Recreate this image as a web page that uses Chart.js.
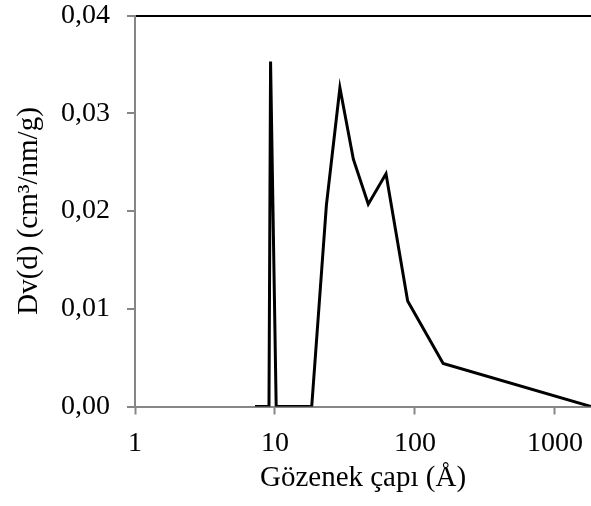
<!DOCTYPE html>
<html lang="tr">
<head>
    <meta charset="utf-8" />
    <title>Gözenek boyut dağılımı</title>
    <style>
        html,
        body {
            margin: 0;
            padding: 0;
            background: #fff;
        }

        #wrap {
            width: 591px;
            height: 506px;
        }
    </style>
</head>
<body>
    <div id="wrap">
        <canvas id="chart" width="591" height="506"></canvas>
    </div>

    <script src="https://cdn.jsdelivr.net/npm/chart.js@4.4.3/dist/chart.umd.min.js"></script>
    <script>
        // pore diameter (Å) and Dv(d) (cm3/nm/g)
        const poreDiameter = [7.2, 9.06, 9.3, 10.2, 18.3, 23.3, 29.1, 36.3, 46.4, 62.1, 88.7, 159, 1810];
        const dvValues = [0, 0, 0.0353, 0, 0, 0.0206, 0.0326, 0.0253, 0.0207, 0.0238, 0.0108, 0.0044, 0];

        const xTicks = [1, 10, 100, 1000];
        const yTicks = [0, 0.01, 0.02, 0.03, 0.04];
        const xMin = 1;
        const xMax = 1810;
        const yMax = 0.04;

        const serif = "'Liberation Serif', 'Times New Roman', serif";
        const axisGray = '#868686';

        const points = poreDiameter.map((d, i) => ({ x: d, y: dvValues[i] }));

        const config = {
            type: 'scatter',
            data: {
                datasets: [{
                    data: points,
                    showLine: true,
                    borderColor: '#000',
                    borderWidth: 3,
                    pointRadius: 0,
                    tension: 0,
                    borderJoinStyle: 'miter'
                }]
            },
            options: {
                responsive: false,
                animation: false,
                layout: { padding: { top: 15.5, right: 0, left: 0, bottom: 0 } },
                plugins: {
                    legend: { display: false },
                    tooltip: { enabled: false }
                },
                scales: {
                    x: {
                        type: 'logarithmic',
                        min: xMin,
                        max: xMax,
                        afterBuildTicks: (scale) => {
                            scale.ticks = xTicks.map(v => ({ value: v }));
                        },
                        afterFit: (scale) => {
                            scale.height = 99.5;
                            scale.paddingLeft = 0;
                            scale.paddingRight = 0;
                        },
                        border: { color: axisGray, width: 2 },
                        grid: {
                            drawOnChartArea: false,
                            tickColor: axisGray,
                            tickWidth: 2,
                            tickLength: 8
                        },
                        ticks: {
                            color: '#000',
                            font: { family: serif, size: 28 },
                            padding: 12,
                            maxRotation: 0,
                            autoSkip: false,
                            callback: (v) => String(v)
                        },
                        title: {
                            display: true,
                            text: 'Gözenek çapı (Å)',
                            color: '#000',
                            font: { family: serif, size: 29 },
                            padding: { top: 4, bottom: 10 }
                        }
                    },
                    y: {
                        min: 0,
                        max: yMax,
                        afterBuildTicks: (scale) => {
                            scale.ticks = yTicks.map(v => ({ value: v }));
                        },
                        afterFit: (scale) => {
                            scale.width = 135;
                            scale.paddingTop = 0;
                            scale.paddingBottom = 0;
                        },
                        border: { color: axisGray, width: 2 },
                        grid: {
                            color: (ctx) => (ctx.tick && ctx.tick.value === yMax ? '#000' : 'rgba(0,0,0,0)'),
                            lineWidth: 2,
                            tickColor: axisGray,
                            tickWidth: 2,
                            tickLength: 8
                        },
                        ticks: {
                            color: '#000',
                            font: { family: serif, size: 28 },
                            padding: 17,
                            callback: (v) => v.toFixed(2).replace('.', ',')
                        },
                        title: {
                            display: true,
                            text: 'Dv(d) (cm³/nm/g)',
                            color: '#000',
                            font: { family: serif, size: 29 },
                            padding: { top: 12, bottom: 0 }
                        }
                    }
                }
            }
        };

        new Chart(document.getElementById('chart'), config);
    </script>
</body>
</html>
